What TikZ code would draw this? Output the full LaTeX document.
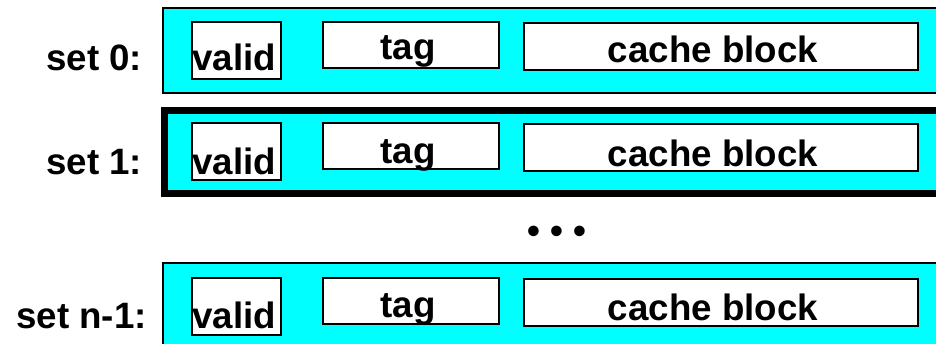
\documentclass[tikz,border=0pt]{standalone}
\usepackage{fontspec}
\setmainfont{Liberation Sans}
\usepackage{tikz}
\usetikzlibrary{positioning}
\definecolor{setcolor}{RGB}{0, 255, 255}
\definecolor{fieldcolor}{RGB}{255, 255, 255}
\definecolor{edgecolor}{RGB}{0, 0, 0}
\tikzset{
setrow/.style={
  draw=edgecolor,
  line width=2pt,
  fill=setcolor,
  inner sep=0pt,
  outer sep=0pt
},
fieldbox/.style={
  draw=edgecolor,
  line width=2.5pt,
  fill=fieldcolor,
  inner sep=0pt,
  outer sep=0pt
},
fieldtext/.style={
  font=\fontsize{36.7}{40}\selectfont\bfseries,
  text=edgecolor,
  inner sep=0pt
}
}

\begin{document}
\begin{tikzpicture}[x=1pt, y=-1pt]
  \useasboundingbox (0,0) rectangle (936,344);
  % one row per set, set 1 drawn heavy
  \node[setrow, minimum width=782, minimum height=85] (set0) at (554,50.5) {};
  \node[setrow, line width=7pt, minimum width=780.5, minimum height=83] (set1) at (554.75,152) {};
  \node[setrow, minimum width=782, minimum height=92] (setn) at (554,309) {};
  % fields of each set
  \foreach \n/\dy/\ty/\lx/\lab in {0/0/0/46/{set 0:}, 1/101/104/46/{set 1:}, n/256/257/16/{set n-1:}}{
    \node[fieldbox, minimum width=89, minimum height=57] (valid\n) at (236.5,50.5+\dy) {};
    \node[fieldbox, minimum width=176, minimum height=46] (tag\n) at (411,45+\dy) {};
    \node[fieldbox, minimum width=394, minimum height=47] (block\n) at (721,46.5+\dy) {};
    \node[fieldtext, anchor=base west] (validtext\n) at (192,71+\ty) {valid};
    \node[fieldtext, anchor=base] (tagtext\n) at (408,60+\ty) {tag};
    \node[fieldtext, anchor=base] (blocktext\n) at (713,63+\ty) {cache block};
    \node[fieldtext, anchor=base west] (label\n) at (\lx,71+\ty) {\lab};
  }
  \node[fieldtext, anchor=base] (dots) at (557,244) {• • •};
\end{tikzpicture}
\end{document}
